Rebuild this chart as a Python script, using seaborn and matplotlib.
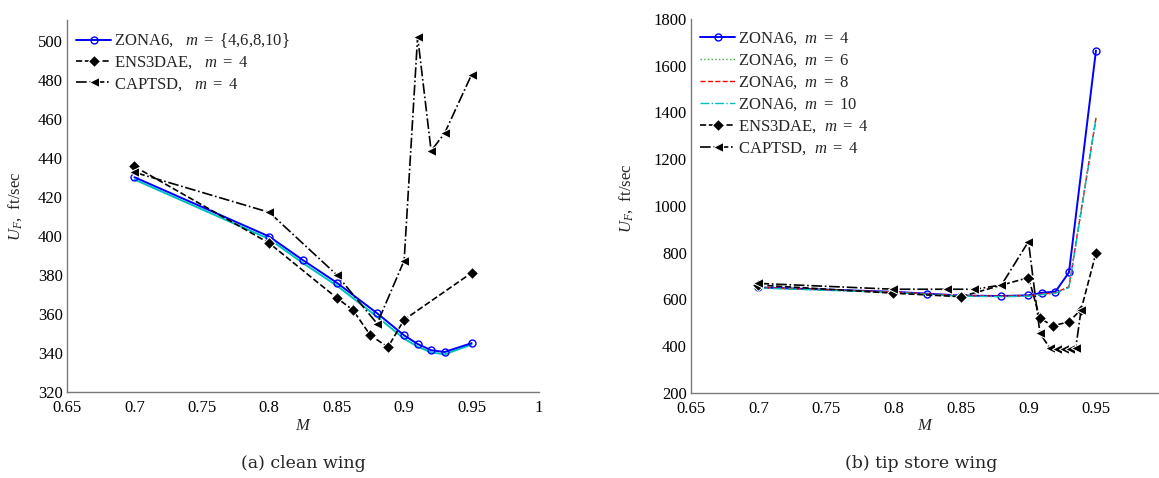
import numpy as np
import pandas as pd
import matplotlib
matplotlib.use("Agg")
import matplotlib.pyplot as plt
import seaborn as sns

# ---------------- data: (a) clean wing ----------------
a_zona_m = [0.7, 0.8, 0.825, 0.85, 0.88, 0.9, 0.91, 0.92, 0.93, 0.95]
a_zona4_u = [430.0, 399.6, 387.5, 376.0, 360.3, 349.0, 344.6, 341.4, 340.5, 345.0]
a_zona_other_u = [428.8, 398.3, 386.0, 374.5, 358.5, 347.3, 343.2, 340.3, 339.3, 344.3]
a_ens_m = [0.7, 0.8, 0.85, 0.862, 0.875, 0.888, 0.9, 0.95]
a_ens_u = [435.5, 396.2, 368.2, 362.0, 349.0, 343.0, 357.0, 381.0]
a_cap_m = [0.7, 0.8, 0.85, 0.88, 0.9, 0.91, 0.92, 0.93, 0.95]
a_cap_u = [432.5, 412.0, 380.0, 355.0, 387.3, 502.0, 443.5, 452.5, 482.5]

# ---------------- data: (b) tip store wing ----------------
b_zona_m = [0.7, 0.8, 0.825, 0.85, 0.88, 0.9, 0.91, 0.92, 0.93, 0.95]
b_zona4_u = [651, 632, 624, 616, 614, 617, 628, 633, 715, 1665]
b_zona6_u = [649, 630, 622, 614, 612, 614, 621, 627, 652, 1378]
b_zona8_u = [650, 631, 623, 615, 613, 615, 622, 628, 654, 1375]
b_zona10_u = [648, 629, 621, 613, 611, 613, 620, 626, 650, 1372]
b_ens_m = [0.7, 0.8, 0.85, 0.9, 0.9085, 0.918, 0.93, 0.939, 0.95]
b_ens_u = [661, 626, 611, 693, 519, 486, 504, 556, 797]
b_cap_m = [0.7, 0.8, 0.84, 0.86, 0.88, 0.9, 0.9085, 0.916, 0.921, 0.926, 0.931, 0.935, 0.939]
b_cap_u = [668, 643, 643, 643, 661, 847, 454, 390, 386, 386, 386, 390, 556]

sns.set_style("white")
plt.rcParams['font.family'] = ['Liberation Serif', 'DejaVu Serif']
plt.rcParams['mathtext.fontset'] = 'custom'
plt.rcParams['mathtext.rm'] = 'Liberation Serif'
plt.rcParams['mathtext.it'] = 'Liberation Serif:italic'
plt.rcParams['mathtext.bf'] = 'Liberation Serif:bold'

fig = plt.figure(figsize=(11.59, 4.78), dpi=100)
axL = fig.add_axes([67/1159, 86/478, 472/1159, 372/478])
axR = fig.add_axes([691/1159, 85.3/478, 468/1159, 373.7/478])

GRAY = '#7a7a7a'

def line(ax, m, u, **kw):
    df = pd.DataFrame({'M': m, 'U': u})
    sns.lineplot(data=df, x='M', y='U', ax=ax, sort=False, estimator=None, **kw)

# ---- left panel ----
line(axL, a_zona_m, a_zona_other_u, color='#00bfbf', lw=1.4, legend=False)
line(axL, a_zona_m, a_zona4_u, color='#0000ff', lw=1.4, marker='o', markersize=5,
     markerfacecolor='none', markeredgecolor='#0000ff', markeredgewidth=1.0,
     label=r'ZONA6,   $\mathit{m\ =\ \{4{,}6{,}8{,}10\}}$')
line(axL, a_ens_m, a_ens_u, color='black', lw=1.2, linestyle='--', dashes=(4, 2.5),
     marker='D', markersize=6, label=r'ENS3DAE,   $\mathit{m\ =\ 4}$')
line(axL, a_cap_m, a_cap_u, color='black', lw=1.2, linestyle='-.', dashes=(5, 2, 1, 2),
     marker='<', markersize=7, label=r'CAPTSD,   $\mathit{m\ =\ 4}$')
axL.set_xlim(0.65, 1.0)
axL.set_ylim(320, 510.5)
axL.set_xticks([0.65, 0.7, 0.75, 0.8, 0.85, 0.9, 0.95, 1.0])
axL.set_xticklabels(['0.65', '0.7', '0.75', '0.8', '0.85', '0.9', '0.95', '1'])
axL.set_yticks(np.arange(320, 501, 20))
axL.legend(loc='upper left', bbox_to_anchor=(-0.005, 1.0), frameon=False, fontsize=12,
           handlelength=2.1, handletextpad=0.15, labelspacing=0.26, borderaxespad=0.3)

# ---- right panel ----
line(axR, b_zona_m, b_zona4_u, color='#0000ff', lw=1.4, marker='o', markersize=5,
     markerfacecolor='none', markeredgecolor='#0000ff', markeredgewidth=1.0,
     label=r'ZONA6,  $\mathit{m\ =\ 4}$')
line(axR, b_zona_m, b_zona6_u, color='#3cb043', lw=1.0, linestyle=':',
     label=r'ZONA6,  $\mathit{m\ =\ 6}$')
line(axR, b_zona_m, b_zona8_u, color='#ff0000', lw=1.0, linestyle='--', dashes=(4, 2),
     label=r'ZONA6,  $\mathit{m\ =\ 8}$')
line(axR, b_zona_m, b_zona10_u, color='#00bfbf', lw=1.0, linestyle='-.', dashes=(5, 2, 1, 2),
     label=r'ZONA6,  $\mathit{m\ =\ 10}$')
line(axR, b_ens_m, b_ens_u, color='black', lw=1.2, linestyle='--', dashes=(4, 2.5),
     marker='D', markersize=6, label=r'ENS3DAE,  $\mathit{m\ =\ 4}$')
line(axR, b_cap_m, b_cap_u, color='black', lw=1.2, linestyle='-.', dashes=(5, 2, 1, 2),
     marker='<', markersize=7, label=r'CAPTSD,  $\mathit{m\ =\ 4}$')
axR.set_xlim(0.65, 0.9967)
axR.set_ylim(200, 1800)
axR.set_xticks([0.65, 0.7, 0.75, 0.8, 0.85, 0.9, 0.95])
axR.set_xticklabels(['0.65', '0.7', '0.75', '0.8', '0.85', '0.9', '0.95'])
axR.set_yticks(np.arange(200, 1801, 200))
axR.legend(loc='upper left', bbox_to_anchor=(-0.005, 1.0), frameon=False, fontsize=12,
           handlelength=2.1, handletextpad=0.15, labelspacing=0.31, borderaxespad=0.3)

for ax in (axL, axR):
    for s in ('top', 'right'):
        ax.spines[s].set_visible(False)
    for s in ('left', 'bottom'):
        ax.spines[s].set_color(GRAY)
        ax.spines[s].set_linewidth(1.0)
    ax.tick_params(direction='in', length=4, width=0.8, color=GRAY, labelsize=12,
                   labelcolor='black', pad=3)
    ax.tick_params(axis='x', pad=6)
    ax.set_xlabel(r'$M$', fontsize=12, labelpad=1)
    ax.set_ylabel(r'$U_F$,  ft/sec', fontsize=12)

axL.yaxis.set_label_coords(-0.092, 0.5)
axR.yaxis.set_label_coords(-0.12, 0.52)

fig.text(303/1159, 14/478, '(a) clean wing', ha='center', va='center',
         fontsize=12.5, family=['DejaVu Serif'])
fig.text(921/1159, 14/478, '(b) tip store wing', ha='center', va='center',
         fontsize=12.5, family=['DejaVu Serif'])

fig.savefig('out.png', dpi=100)
